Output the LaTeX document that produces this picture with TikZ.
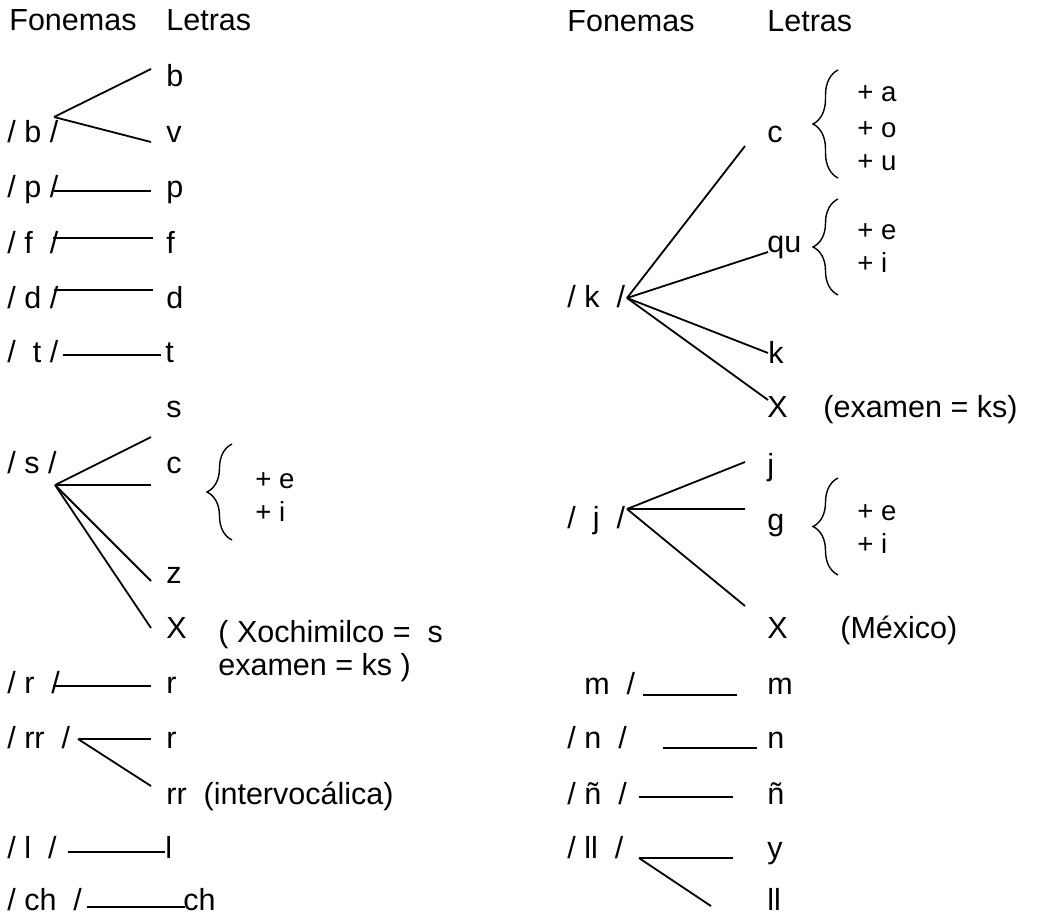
\documentclass[tikz,border=0pt]{standalone}
\usepackage{fontspec}
\setmainfont{Liberation Sans}
\usepackage{tikz}
\usetikzlibrary{decorations.pathreplacing}
\tikzset{fonema/.style = {anchor=base west,inner sep=0pt,font=\fontsize{15.25}{18}\selectfont}}
\tikzset{nota/.style = {anchor=base west,inner sep=0pt,font=\fontsize{13.8}{16}\selectfont}}
\tikzset{enlace/.style = {line width=0.9pt}}
\tikzset{llave/.style = {line width=0.7pt,decorate,decoration={brace,amplitude=12.5pt}}}
\NewDocumentCommand{\condbrace}{m m m}{%
\draw[llave] (#1,#3) -- (#1,#2);
}

\begin{document}
\begin{tikzpicture}[x=0.5pt,y=-0.5pt]
\useasboundingbox (0,0) rectangle (1037,915);

% columna izquierda
\node[fonema] (hf1) at (9,31) {Fonemas};
\node[fonema] (hl1) at (166,31) {Letras};

\node[fonema] (fb) at (7,142) {/ b /};
\node[fonema] (fp) at (7,197) {/ p /};
\node[fonema] (ff) at (7,253) {/ f~ /};
\node[fonema] (fd) at (7,308) {/ d /};
\node[fonema] (ft) at (7,362) {/~ t /};
\node[fonema] (fs) at (7,473) {/ s /};
\node[fonema] (fr) at (7,693) {/ r~ /};
\node[fonema] (frr) at (7,748) {/ rr~ /};
\node[fonema] (fl) at (7,858) {/ l~ /};
\node[fonema] (fch) at (7,910) {/ ch~ /};

\node[fonema] (lb) at (166,87) {b};
\node[fonema] (lv) at (166,142) {v};
\node[fonema] (lp) at (166,197) {p};
\node[fonema] (lf) at (166,253) {f};
\node[fonema] (ld) at (166,308) {d};
\node[fonema] (lt) at (165,362) {t};
\node[fonema] (ls) at (166,417) {s};
\node[fonema] (lc) at (166,473) {c};
\node[fonema] (lz) at (166,583) {z};
\node[fonema] (lx) at (166,638) {X};
\node[fonema] (lr) at (166,693) {r};
\node[fonema] (lr2) at (166,748) {r};
\node[fonema] (lrr) at (166,804) {rr~ (intervoc\'alica)};
\node[fonema] (ll) at (165,858) {l};
\node[fonema] (lch) at (183,910) {ch};

\node[nota] (ce1) at (255,488) {+ e};
\node[nota] (ci1) at (255,521) {+ i};
\condbrace{232}{444}{540}
\node[fonema] (xo1) at (218,642) {( Xochimilco =~ s};
\node[fonema] (xo2) at (218,675) {examen = ks )};

\coordinate (jb) at (54,117);
\coordinate (jp) at (54,191);
\coordinate (jf) at (53,238);
\coordinate (jd) at (54,290);
\coordinate (jt) at (63,355);
\coordinate (js) at (55,485);
\coordinate (jr) at (53,686);
\coordinate (jrr) at (78,739);
\coordinate (jl) at (68,852);
\coordinate (jch) at (87,907);

\draw[enlace] (jb) -- ([shift={(-15,-18)}]lb.base west);
\draw[enlace] (jb) -- ([shift={(-15,0)}]lv.base west);
\draw[enlace] (jp) -- ([shift={(-15,-6)}]lp.base west);
\draw[enlace] (jf) -- ([shift={(-13,-15)}]lf.base west);
\draw[enlace] (jd) -- ([shift={(-13,-18)}]ld.base west);
\draw[enlace] (jt) -- ([shift={(-4,-7)}]lt.base west);
\draw[enlace] (js) -- ([shift={(-15,-36)}]lc.base west);
\draw[enlace] (js) -- ([shift={(-15,12)}]lc.base west);
\draw[enlace] (js) -- ([shift={(-15,-2)}]lz.base west);
\draw[enlace] (js) -- ([shift={(-15,-10)}]lx.base west);
\draw[enlace] (jr) -- ([shift={(-15,-7)}]lr.base west);
\draw[enlace] (jrr) -- ([shift={(-15,-9)}]lr2.base west);
\draw[enlace] (jrr) -- ([shift={(-15,-18)}]lrr.base west);
\draw[enlace] (jl) -- ([shift={(0,-6)}]ll.base west);
\draw[enlace] (jch) -- ([shift={(2,-3)}]lch.base west);

% columna derecha
\node[fonema] (hf2) at (567,32) {Fonemas};
\node[fonema] (hl2) at (767,32) {Letras};

\node[fonema] (fk) at (567,307) {/ k~ /};
\node[fonema] (fj) at (567,528) {/~ j~ /};
\node[fonema] (fm) at (584,694) {m~ /};
\node[fonema] (fn) at (567,748) {/ n~ /};
\node[fonema] (fnn) at (567,804) {/ \~n~ /};
\node[fonema] (fll) at (567,858) {/ ll~ /};

\node[fonema] (rc) at (767,142) {c};
\node[fonema] (rqu) at (767,252) {qu};
\node[fonema] (rk) at (768,363) {k};
\node[fonema] (rx) at (767,417) {X};
\node[fonema] (rxk) at (823,417) {(examen = ks)};
\node[fonema] (rj) at (767,475) {j};
\node[fonema] (rg) at (767,530) {g};
\node[fonema] (rx2) at (767,638) {X};
\node[fonema] (rxm) at (840,638) {(M\'exico)};
\node[fonema] (rm) at (767,694) {m};
\node[fonema] (rn) at (767,748) {n};
\node[fonema] (rnn) at (767,804) {\~n};
\node[fonema] (ry) at (767,858) {y};
\node[fonema] (rll) at (767,910) {ll};

\node[nota] (ca) at (857,102) {+ a};
\node[nota] (co) at (857,137) {+ o};
\node[nota] (cu) at (857,170) {+ u};
\condbrace{838}{70}{178}
\node[nota] (ce2) at (857,239) {+ e};
\node[nota] (ci2) at (857,272) {+ i};
\condbrace{838}{199}{295}
\node[nota] (ce3) at (857,520) {+ e};
\node[nota] (ci3) at (857,553) {+ i};
\condbrace{838}{478}{575}

\coordinate (jk) at (627,298);
\coordinate (jj) at (627,509);
\coordinate (jm) at (643,695);
\coordinate (jn) at (663,748);
\coordinate (jnn) at (639,797);
\coordinate (jll) at (639,858);

\draw[enlace] (jk) -- ([shift={(-22,4)}]rc.base west);
\draw[enlace] (jk) -- ([shift={(1,0)}]rqu.base west);
\draw[enlace] (jk) -- ([shift={(0,-10)}]rk.base west);
\draw[enlace] (jk) -- ([shift={(1,-17)}]rx.base west);
\draw[enlace] (jj) -- ([shift={(-22,-13)}]rj.base west);
\draw[enlace] (jj) -- ([shift={(-22,-21)}]rg.base west);
\draw[enlace] (jj) -- ([shift={(-22,-32)}]rx2.base west);
\draw[enlace] (jm) -- ([shift={(-30,1)}]rm.base west);
\draw[enlace] (jn) -- ([shift={(-10,0)}]rn.base west);
\draw[enlace] (jnn) -- ([shift={(-34,-7)}]rnn.base west);
\draw[enlace] (jll) -- ([shift={(-34,0)}]ry.base west);
\draw[enlace] (jll) -- ([shift={(-56,-4)}]rll.base west);
\end{tikzpicture}
\end{document}
